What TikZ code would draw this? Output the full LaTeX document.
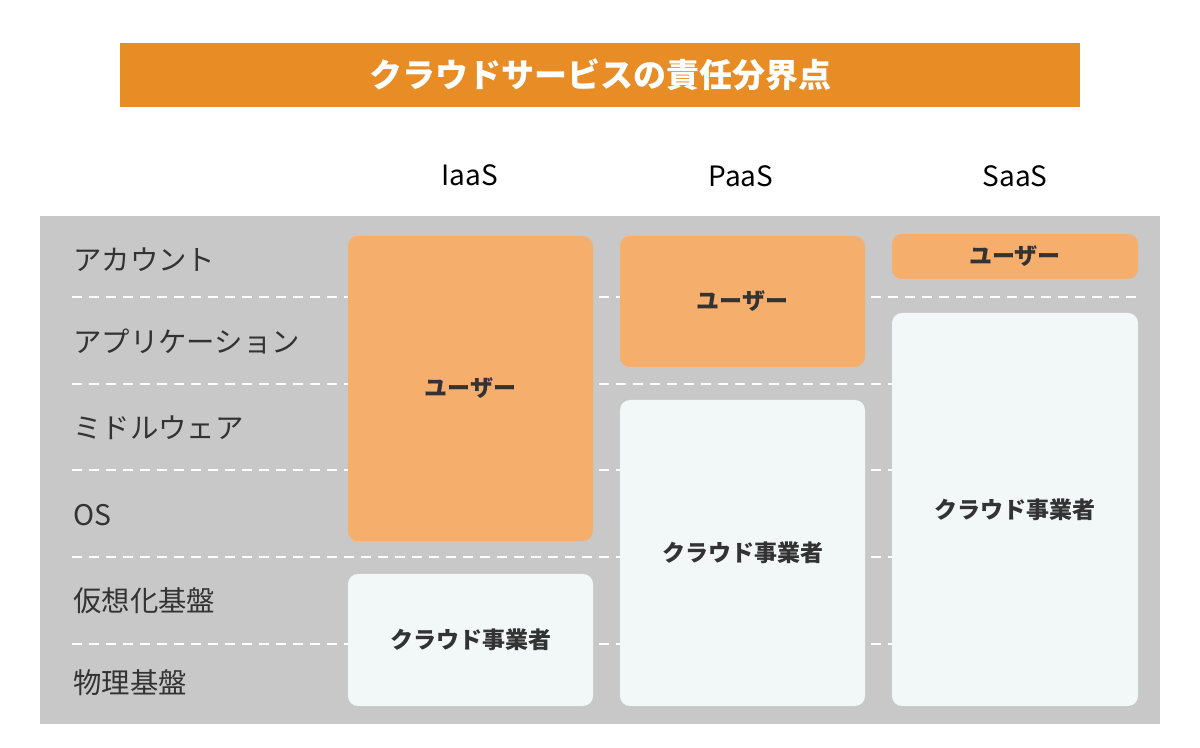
\documentclass[tikz,border=0pt]{standalone}
\usepackage{fontspec}
\setmainfont{Noto Sans CJK JP}
\begin{document}
\begin{tikzpicture}[x=0.5pt,y=-0.5pt,
  title/.style={fill=titleorange,draw=none,minimum width=480pt,minimum height=32pt,text=white,font=\fontsize{16.5}{20}\selectfont\bfseries},
  header/.style={text=black,font=\fontsize{14}{17}\selectfont},
  rowlabel/.style={anchor=west,text=textgray,font=\fontsize{14.2}{17}\selectfont,inner sep=0pt},
  userbox/.style={fill=boxorange,draw=none,rounded corners=5pt,text=textgray,font=\fontsize{11.5}{14}\selectfont\bfseries},
  provbox/.style={fill=boxwhite,draw=none,rounded corners=5pt,text=textgray,font=\fontsize{11.5}{14}\selectfont\bfseries},
  sep/.style={draw=white,line width=1pt,dash pattern=on 5pt off 3.5pt}
]
\definecolor{titleorange}{HTML}{E88C26}
\definecolor{boxorange}{HTML}{F5AE6B}
\definecolor{boxwhite}{HTML}{F2F7F7}
\definecolor{panelgray}{HTML}{C8C8C8}
\definecolor{textgray}{HTML}{333333}
\useasboundingbox (0,0) rectangle (1200,748);
\fill[white] (0,0) rectangle (1200,748);
% title
\node[title] (title) at (600,75) {クラウドサービスの責任分界点};
% headers
\node[header] (hI) at (470,175) {IaaS};
\node[header] (hP) at (741,176) {PaaS};
\node[header] (hS) at (1015,176) {SaaS};
% panel
\fill[panelgray] (40,216) rectangle (1160,724);
\coordinate (l1a) at (72,297); \coordinate (l1b) at (1140,297);
\coordinate (l2a) at (72,384); \coordinate (l2b) at (1140,384);
\coordinate (l3a) at (72,470); \coordinate (l3b) at (1140,470);
\coordinate (l4a) at (72,557); \coordinate (l4b) at (1140,557);
\coordinate (l5a) at (72,644); \coordinate (l5b) at (1140,644);
\draw[sep] (l1a) -- (l1b);
\draw[sep] (l2a) -- (l2b);
\draw[sep] (l3a) -- (l3b);
\draw[sep] (l4a) -- (l4b);
\draw[sep] (l5a) -- (l5b);
% row labels
\node[rowlabel] (r1) at (73,260) {アカウント};
\node[rowlabel] (r2) at (73,341) {アプリケーション};
\node[rowlabel] (r3) at (73,428) {ミドルウェア};
\node[rowlabel] (r4) at (73,515) {OS};
\node[rowlabel] (r5) at (73,601) {仮想化基盤};
\node[rowlabel] (r6) at (73,683) {物理基盤};
% IaaS
\node[userbox,minimum width=122.5pt,minimum height=152.5pt] (iu) at (470.5,388.5) {ユーザー};
\node[provbox,minimum width=122.5pt,minimum height=66pt] (ip) at (470.5,640) {クラウド事業者};
% PaaS
\node[userbox,minimum width=122.5pt,minimum height=65.5pt] (pu) at (742.5,301.5) {ユーザー};
\node[provbox,minimum width=122.5pt,minimum height=153pt] (pp) at (742.5,553) {クラウド事業者};
% SaaS
\node[userbox,minimum width=123pt,minimum height=22.5pt] (su) at (1015,256.5) {ユーザー};
\node[provbox,minimum width=123pt,minimum height=196.5pt] (sp) at (1015,509.5) {クラウド事業者};
\end{tikzpicture}
\end{document}
